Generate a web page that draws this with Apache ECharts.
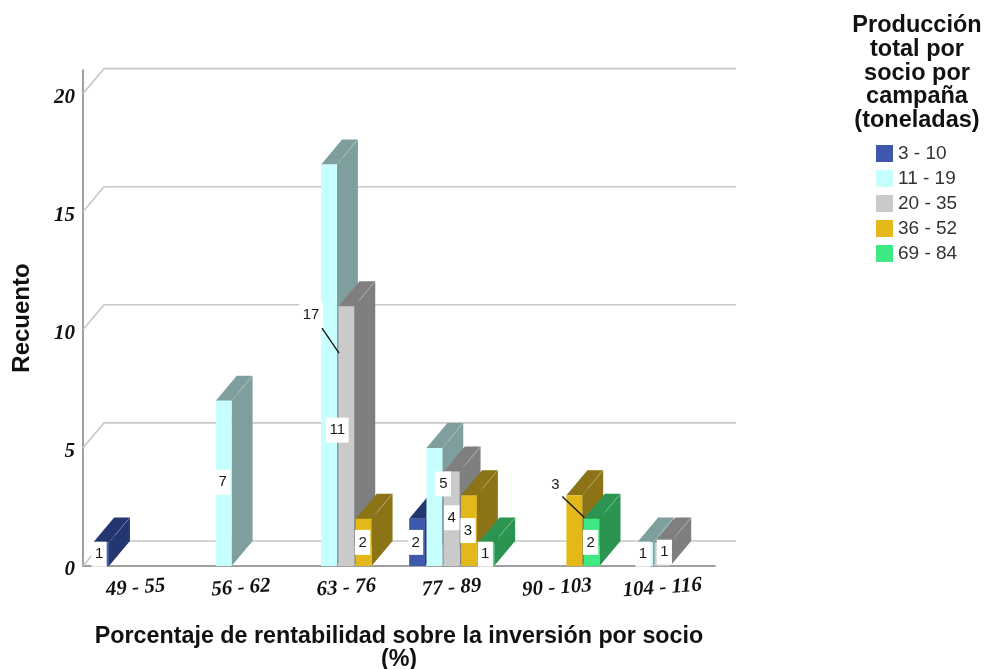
<!DOCTYPE html>
<html>
<head>
<meta charset="utf-8">
<style>html,body{margin:0;padding:0;background:#fff}#chart{width:984px;height:669px}</style>
<script src="https://cdn.jsdelivr.net/npm/echarts@6/dist/echarts.min.js"></script>
</head>
<body>
<div id="chart"></div>
<script>
// Recuento de socios por rentabilidad y producción
const categories = ['49 - 55', '56 - 62', '63 - 76', '77 - 89', '90 - 103', '104 - 116'];
const yTicks = [0, 5, 10, 15, 20];
const seriesNames = ['3 - 10', '11 - 19', '20 - 35', '36 - 52', '69 - 84'];
const prod3to10 = [1, null, null, 2, null, null];
const prod11to19 = [null, 7, 17, 5, null, 1];
const prod20to35 = [null, null, 11, 4, null, 1];
const prod36to52 = [null, null, 2, 3, 3, null];
const prod69to84 = [null, null, null, 1, 2, null];
const seriesValues = [prod3to10, prod11to19, prod20to35, prod36to52, prod69to84];

const frontColors = ['#3E58AC', '#C7FFFF', '#CACACA', '#E3B819', '#3EE882'];
const sideColors = ['#24366F', '#7F9F9F', '#7F7F7F', '#8B7316', '#2A9450'];

// Profundidad de la proyección y reparto de las barras dentro de cada banda
const DEPTH_X = 21, DEPTH_Y = 25;
const SLOT = 0.1643, BAR = 0.15;
const FONT = '"Liberation Sans", Arial, sans-serif';
const TICK_FONT = '"Liberation Serif", "Times New Roman", serif';

// Desplazamiento de etiquetas respecto al centro de la barra: clave "serie-categoría"
const DEFAULT_SHIFT = [-1, 0];
const labelShift = {
  '0-0': [-2, 0], '1-1': [-1, -1], '1-2': [-18, -50], '2-2': [-9, -6],
  '0-3': [-1.5, 0], '1-3': [9, -23], '2-3': [0, -1], '1-5': [-2, 0], '2-5': [2, -2],
  '3-4': [-19, -46]
};
// Líneas guía de las etiquetas desplazadas, relativas al centro de la etiqueta
const leaderLines = {
  '1-2': [[11, 13], [28, 38]],
  '3-4': [[7, 12], [29, 33]]
};

function barBox(api, slot) {
  const cat = api.value(0), val = api.value(1);
  const base = api.coord([cat, 0]);
  const top = api.coord([cat, val]);
  const band = api.size([1, 0])[0];
  const cx = base[0] + (slot - 2) * SLOT * band;
  const w = BAR * band;
  return { x0: cx - w / 2, x1: cx + w / 2, cx: cx, yb: base[1], yt: top[1] };
}

function renderBar(slot) {
  return function (params, api) {
    const b = barBox(api, slot);
    const side = sideColors[slot];
    const poly = (points, fill) => ({
      type: 'polygon', shape: { points: points }, style: { fill: fill }
    });
    return {
      type: 'group',
      children: [
        poly([[b.x1, b.yb], [b.x1 + DEPTH_X, b.yb - DEPTH_Y], [b.x1 + DEPTH_X, b.yt - DEPTH_Y], [b.x1, b.yt]], side),
        poly([[b.x0, b.yt], [b.x0 + DEPTH_X, b.yt - DEPTH_Y], [b.x1 + DEPTH_X, b.yt - DEPTH_Y], [b.x1, b.yt]], side),
        {
          type: 'line',
          shape: { x1: b.x1 + DEPTH_X - 1, y1: b.yt - DEPTH_Y + 1, x2: b.x1 + DEPTH_X - 15, y2: b.yt - DEPTH_Y + 18 },
          style: { stroke: 'rgba(255,255,255,0.22)', lineWidth: 1 }
        },
        { type: 'rect', shape: { x: b.x0, y: b.yt, width: b.x1 - b.x0, height: b.yb - b.yt }, style: { fill: frontColors[slot] } }
      ]
    };
  };
}

function renderLabel(slot) {
  return function (params, api) {
    const b = barBox(api, slot);
    const key = slot + '-' + api.value(0);
    const shift = labelShift[key] || DEFAULT_SHIFT;
    const lx = b.cx + shift[0];
    const ly = (b.yb + b.yt) / 2 + shift[1];
    const children = [{
      type: 'text',
      x: lx, y: ly,
      style: {
        text: String(api.value(1)),
        font: '15px ' + FONT,
        fill: '#1a1a1a',
        align: 'center',
        verticalAlign: 'middle',
        backgroundColor: '#fff',
        padding: [5, 3.5]
      }
    }];
    const leader = leaderLines[key];
    if (leader) {
      children.push({
        type: 'line',
        shape: { x1: lx + leader[0][0], y1: ly + leader[0][1], x2: lx + leader[1][0], y2: ly + leader[1][1] },
        style: { stroke: '#111', lineWidth: 1.3 }
      });
    }
    return { type: 'group', children: children };
  };
}

// Rejilla en perspectiva: diagonal de la pared izquierda y línea de la pared del fondo
function renderGrid(params, api) {
  const v = api.value(0);
  const a = api.coord([0, v]);
  const band = api.size([1, 0])[0];
  const x0 = a[0] - band / 2;
  const x1 = x0 + band * categories.length;
  const y = a[1];
  return {
    type: 'polyline',
    shape: { points: [[x0, y], [x0 + DEPTH_X, y - DEPTH_Y], [x1 + DEPTH_X, y - DEPTH_Y]] },
    style: { stroke: '#C8C8C8', lineWidth: 1.6, fill: 'none' }
  };
}

const rowsFor = vals => vals.map((v, i) => [i, v]).filter(r => r[1] !== null);

const series = [{
  name: 'rejilla', type: 'custom', z: 1, silent: true,
  data: yTicks.map(v => [v]),
  encode: { y: 0 },
  renderItem: renderGrid
}];
seriesNames.forEach((name, slot) => {
  series.push({
    name: name, type: 'custom', z: 2 + slot,
    itemStyle: { color: frontColors[slot] },
    data: rowsFor(seriesValues[slot]),
    encode: { x: 0, y: 1 },
    renderItem: renderBar(slot)
  });
});
seriesNames.forEach((name, slot) => {
  series.push({
    name: 'etiqueta ' + name, type: 'custom', z: 10,
    data: rowsFor(seriesValues[slot]),
    encode: { x: 0, y: 1 },
    renderItem: renderLabel(slot)
  });
});

const tickFontStyle = {
  fontFamily: TICK_FONT, fontSize: 21, fontWeight: 'bold', fontStyle: 'italic', color: '#111'
};

const chart = echarts.init(document.getElementById('chart'), null, { renderer: 'canvas' });
chart.setOption({
  animation: false,
  backgroundColor: '#fff',
  title: {
    text: 'Producción\ntotal por\nsocio por\ncampaña\n(toneladas)',
    left: 912, top: 9,
    textAlign: 'center',
    textStyle: { fontFamily: FONT, fontSize: 23.5, fontWeight: 'bold', color: '#111', lineHeight: 23.7 }
  },
  legend: {
    data: seriesNames,
    orient: 'vertical',
    left: 876, top: 144,
    padding: 0,
    itemWidth: 17, itemHeight: 17, itemGap: 6,
    icon: 'rect',
    selectedMode: false,
    textStyle: { fontFamily: FONT, fontSize: 19, color: '#333' }
  },
  grid: { left: 83, right: 269, top: 70, bottom: 103, containLabel: false, outerBoundsMode: 'none' },
  xAxis: {
    type: 'category',
    data: categories,
    boundaryGap: true,
    axisTick: { show: false },
    axisLine: { lineStyle: { color: '#808080', width: 1.5 } },
    axisLabel: Object.assign({
      interval: 0, rotate: 4, margin: 22, align: 'center', verticalAlign: 'middle'
    }, tickFontStyle),
    name: 'Porcentaje de rentabilidad sobre la inversión por socio\n(%)',
    nameLocation: 'middle',
    nameGap: 59,
    nameTextStyle: { fontFamily: FONT, fontSize: 23.3, fontWeight: 'bold', color: '#111', lineHeight: 23 }
  },
  yAxis: {
    type: 'value',
    min: 0, max: 21, interval: 5,
    splitLine: { show: false },
    axisTick: { show: false },
    axisLine: { show: true, lineStyle: { color: '#808080', width: 1.5 } },
    axisLabel: Object.assign({
      customValues: yTicks, margin: 8,
      formatter: '{tick|{value}}',
      rich: { tick: Object.assign({ padding: [8, 0, 0, 0] }, tickFontStyle) }
    }, tickFontStyle),
    name: 'Recuento',
    nameLocation: 'middle',
    nameGap: 49,
    nameTextStyle: { fontFamily: FONT, fontSize: 24, fontWeight: 'bold', color: '#111' }
  },
  series: series
});
</script>
</body>
</html>
